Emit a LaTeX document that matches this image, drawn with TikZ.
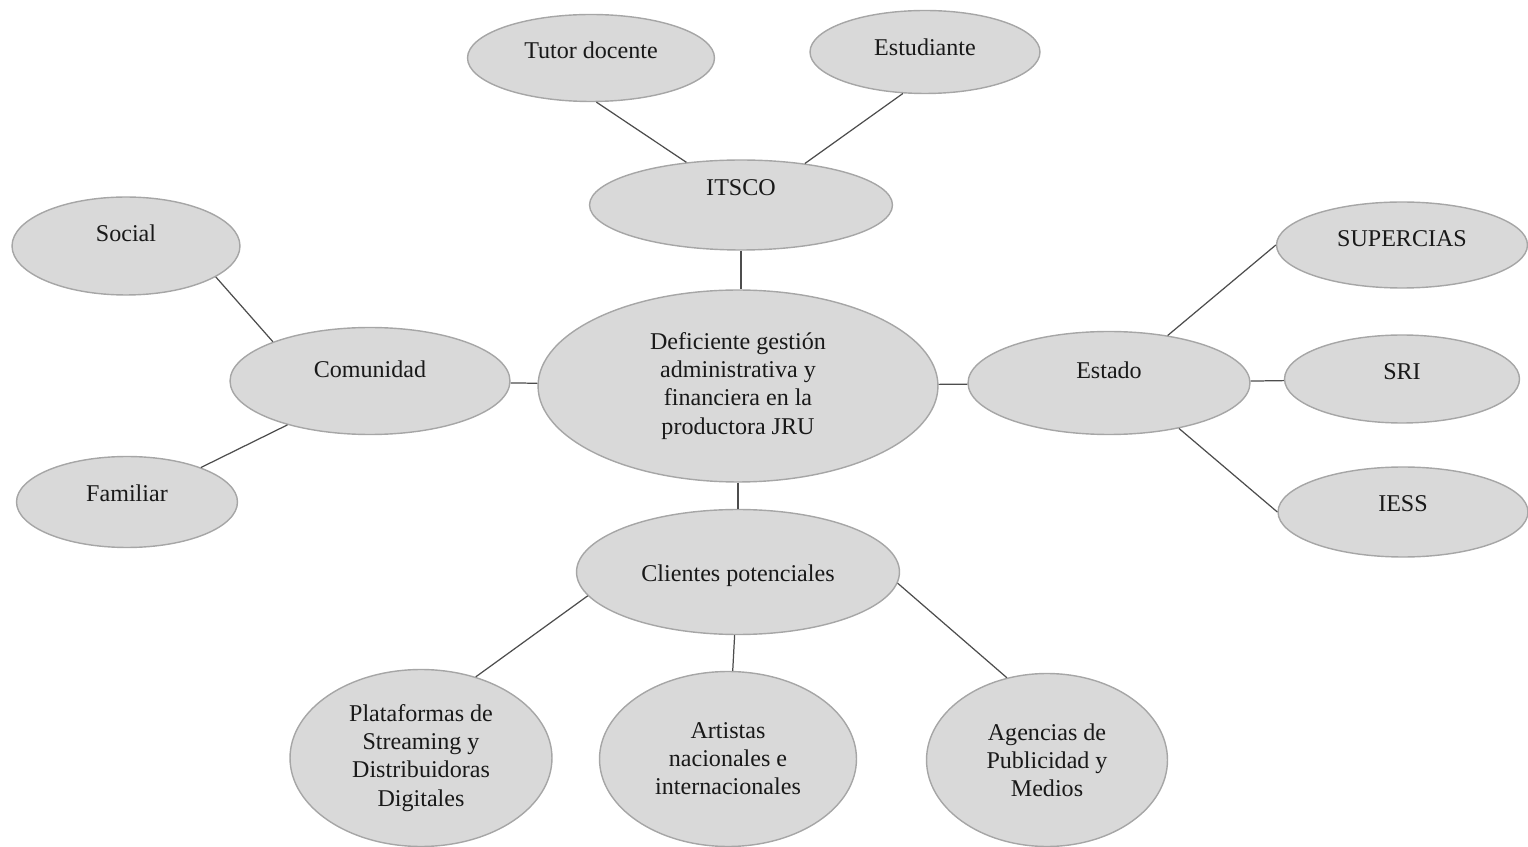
\documentclass[tikz,border=0pt]{standalone}
\usepackage{fontspec}
\setmainfont{Liberation Serif}
\usetikzlibrary{shapes.geometric}
\definecolor{bubblefill}{HTML}{D9D9D9}
\definecolor{bubbleline}{HTML}{A6A6A6}
\definecolor{linkline}{HTML}{4D4D4D}
\begin{document}
\begin{tikzpicture}[x=0.02cm, y=-0.02cm,
        bubble/.style={ellipse, draw=bubbleline, fill=bubblefill, line width=0.8pt,
            inner sep=0pt, align=center, text=black!90, font=\fontsize{13.7}{16}\selectfont},
        txtup/.style={text depth=#1},
        link/.style={draw=linkline, line width=0.7pt}]
                    \useasboundingbox (0, 0) rectangle (1528, 847);
                    \node[bubble, minimum width=8cm, minimum height=3.84cm] (jru) at (738, 386){Deficiente gestión\\administrativa y\\financiera en la\\productora JRU};
                    \node[bubble, txtup=20pt, minimum width=6.06cm, minimum height=1.8cm] (itsco) at (741, 205){ITSCO};
                        \node[bubble, txtup=9pt, minimum width=4.94cm, minimum height=1.74cm] (tutor) at (591, 58){Tutor docente};
                        \node[bubble, txtup=6pt, minimum width=4.6cm, minimum height=1.66cm] (estud) at (925, 52){Estudiante};
                    \node[bubble, txtup=13.5pt, minimum width=5.6cm, minimum height=2.14cm] (comun) at (370, 381){Comunidad};
                        \node[bubble, txtup=14.5pt, minimum width=4.56cm, minimum height=1.96cm] (social) at (126, 246){Social};
                        \node[bubble, txtup=10.5pt, minimum width=4.42cm, minimum height=1.82cm] (famil) at (127, 502){Familiar};
                    \node[bubble, txtup=14.5pt, minimum width=5.64cm, minimum height=2.06cm] (estado) at (1109, 383){Estado};
                        \node[bubble, txtup=7pt, minimum width=5.02cm, minimum height=1.72cm] (superc) at (1402, 245){SUPERCIAS};
                        \node[bubble, txtup=8.5pt, minimum width=4.7cm, minimum height=1.76cm] (sri) at (1402, 379){SRI};
                        \node[bubble, txtup=9.5pt, minimum width=5cm, minimum height=1.8cm] (iess) at (1403, 512){IESS};
                    \node[bubble, text height=14pt, minimum width=6.46cm, minimum height=2.5cm] (client) at (738, 572){Clientes potenciales};
                        \node[bubble, minimum width=5.24cm, minimum height=3.54cm] (plataf) at (421, 758){Plataformas de\\Streaming y\\Distribuidoras\\Digitales};
                        \node[bubble, minimum width=5.14cm, minimum height=3.5cm] (artist) at (728, 759){Artistas\\nacionales e\\internacionales};
                        \node[bubble, minimum width=4.82cm, minimum height=3.46cm] (agenc) at (1047, 760){Agencias de\\Publicidad y\\Medios};
                    \draw[link] (tutor.-83) to (itsco.142);
                    \draw[link] (estud.-118) to (itsco.33);
                    \draw[link] (itsco.south) to (itsco.south |- jru.north);
                    \draw[link] (social.-19) to (comun.158);
                    \draw[link] (famil.25) to (comun.-152);
                    \draw[link] (comun) to (jru);
                    \draw[link] (jru) to (estado);
                    \draw[link] (estado.39) to (superc.180);
                    \draw[link] (estado) to (sri);
                    \draw[link] (estado.-33) to (iess.180);
                    \draw[link] (jru) to (client);
                    \draw[link] (client.-171) to (plataf.56);
                    \draw[link] (client) to (artist);
                    \draw[link] (client.-4) to (agenc.116);
                \end{tikzpicture}
\end{document}
